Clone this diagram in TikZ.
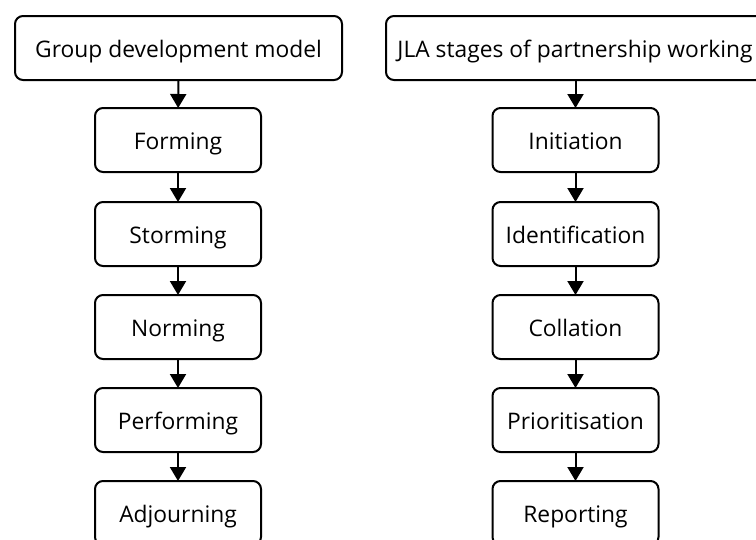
\documentclass[tikz,border=0pt]{standalone}
\usepackage{fontspec}
\setmainfont{Open Sans}
\usetikzlibrary{arrows.meta}
\begin{document}
\begin{tikzpicture}[x=1pt,y=-1pt,
  stagebox/.style={draw=black, line width=2pt, rounded corners=8pt, fill=white,
    minimum width=166pt, minimum height=64pt, inner sep=0pt,
    text height=19.5pt, text depth=0pt,
    font=\fontsize{22.8}{26}\selectfont},
  headbox/.style={stagebox, minimum width=327pt},
  flow/.style={-{Triangle[width=16pt,length=14pt]}, line width=2pt, shorten >=-1pt}]
\useasboundingbox (0,0) rectangle (756,539);
\clip (0,0) rectangle (756,539);

% left column: group development model
\node[headbox] (gdm) at (178.5,48) {Group development model};
\node[stagebox] (forming)    at (178,140) {Forming};
\node[stagebox] (storming)   at (178,234) {Storming};
\node[stagebox] (norming)    at (178,327) {Norming};
\node[stagebox] (performing) at (178,420) {Performing};
\node[stagebox] (adjourning) at (178,513) {Adjourning};

% right column: JLA stages
\node[headbox, minimum width=378pt] (jla) at (575,48) {JLA stages of partnership working};
\node[stagebox] (initiation)     at (575.5,140) {Initiation};
\node[stagebox] (identification) at (575.5,234) {Identification};
\node[stagebox] (collation)      at (575.5,327) {Collation};
\node[stagebox] (prioritisation) at (575.5,420) {Prioritisation};
\node[stagebox] (reporting)      at (575.5,513) {Reporting};

\draw[flow] (gdm) -- (forming);
\draw[flow] (forming) -- (storming);
\draw[flow] (storming) -- (norming);
\draw[flow] (norming) -- (performing);
\draw[flow] (performing) -- (adjourning);

\draw[flow] (jla.south -| initiation) -- (initiation);
\draw[flow] (initiation) -- (identification);
\draw[flow] (identification) -- (collation);
\draw[flow] (collation) -- (prioritisation);
\draw[flow] (prioritisation) -- (reporting);
\end{tikzpicture}
\end{document}
